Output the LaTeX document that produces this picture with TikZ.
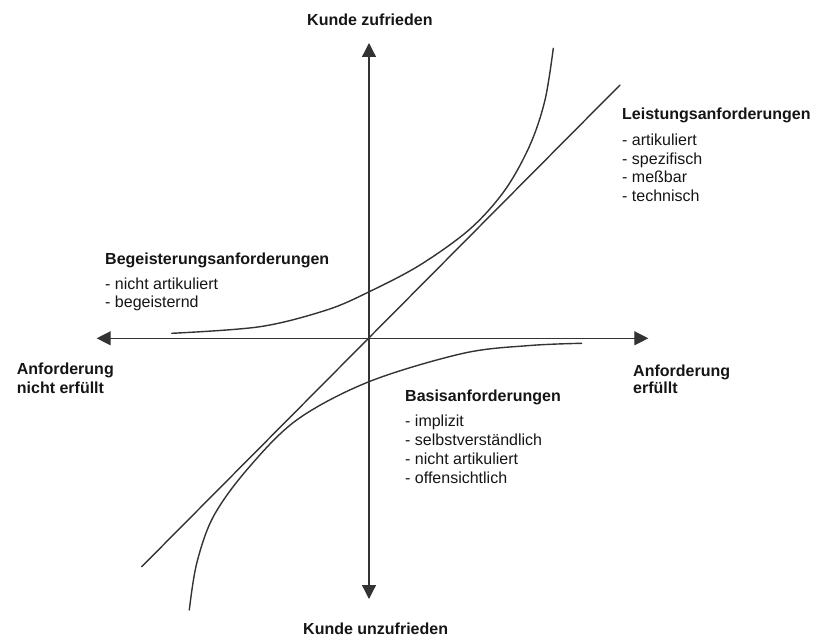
\documentclass[tikz,border=0pt]{standalone}
\usepackage{fontspec}
\setmainfont{Liberation Sans}
\usetikzlibrary{arrows.meta}
\definecolor{inkline}{HTML}{333333}
\definecolor{inktext}{HTML}{151515}
\begin{document}
\begin{tikzpicture}[x=1pt,y=-1pt,
  axis/.style={draw=inkline, line width=1.3pt, -{Triangle[width=14pt,length=14pt]}},
  curve/.style={draw=inkline, line width=1.4pt, line cap=round},
  heading/.style={anchor=base west, inner sep=0pt, text=inktext,
    font=\fontsize{16}{18}\selectfont\bfseries},
  entry/.style={anchor=base west, inner sep=0pt, text=inktext,
    font=\fontsize{16}{18}\selectfont}]
\useasboundingbox (0,0) rectangle (817,636);

% axes
\coordinate (O) at (369,338.3);
\coordinate (ytop) at (369,43);
\coordinate (ybot) at (369,599);
\coordinate (xleft) at (96.7,338.3);
\coordinate (xright) at (648.3,338.3);
\draw[axis] (O) -- (ytop);
\draw[axis] (O) -- (ybot);
\draw[axis] (O) -- (xleft);
\draw[axis] (O) -- (xright);

% performance line
\coordinate (lineA) at (141.7,566.7);
\coordinate (lineB) at (620,85);
\draw[curve] (lineA) -- (lineB);

% excitement curve
\draw[curve] plot[smooth, tension=0.55] coordinates {
  (171.7,333.3) (260,326.7) (326.7,310) (369.3,291.7) (420,265)
  (470,229) (505,190) (530,145) (545,100) (553.3,48.3)};

% basic curve
\draw[curve] plot[smooth, tension=0.55] coordinates {
  (581.7,343.3) (530,345.5) (463.3,353.3) (369,381.7) (296.7,420)
  (246.7,470) (213.3,516.7) (196.7,563.3) (189.3,610)};

% axis labels
\node[heading] (sat) at (307,26) {Kunde zufrieden};
\node[heading] (dissat) at (303,634) {Kunde unzufrieden};
\node[heading] (nf1) at (16.7,375) {Anforderung};
\node[heading] (nf2) at (16.7,393) {nicht erfüllt};
\node[heading] (f1) at (633,376.7) {Anforderung};
\node[heading] (f2) at (633,394) {erfüllt};

% performance requirements
\node[heading] (lt) at (622,120) {Leistungsanforderungen};
\node[entry] (l1) at (622,146) {- artikuliert};
\node[entry] (l2) at (622,164.5) {- spezifisch};
\node[entry] (l3) at (622,183) {- meßbar};
\node[entry] (l4) at (622,201.5) {- technisch};

% excitement requirements
\node[heading] (bt) at (105,264.5) {Begeisterungsanforderungen};
\node[entry] (b1) at (105,290) {- nicht artikuliert};
\node[entry] (b2) at (105,307.7) {- begeisternd};

% basic requirements
\node[heading] (st) at (405,402) {Basisanforderungen};
\node[entry] (s1) at (405,426.7) {- implizit};
\node[entry] (s2) at (405,445.5) {- selbstverständlich};
\node[entry] (s3) at (405,464.5) {- nicht artikuliert};
\node[entry] (s4) at (405,483.3) {- offensichtlich};
\end{tikzpicture}
\end{document}
